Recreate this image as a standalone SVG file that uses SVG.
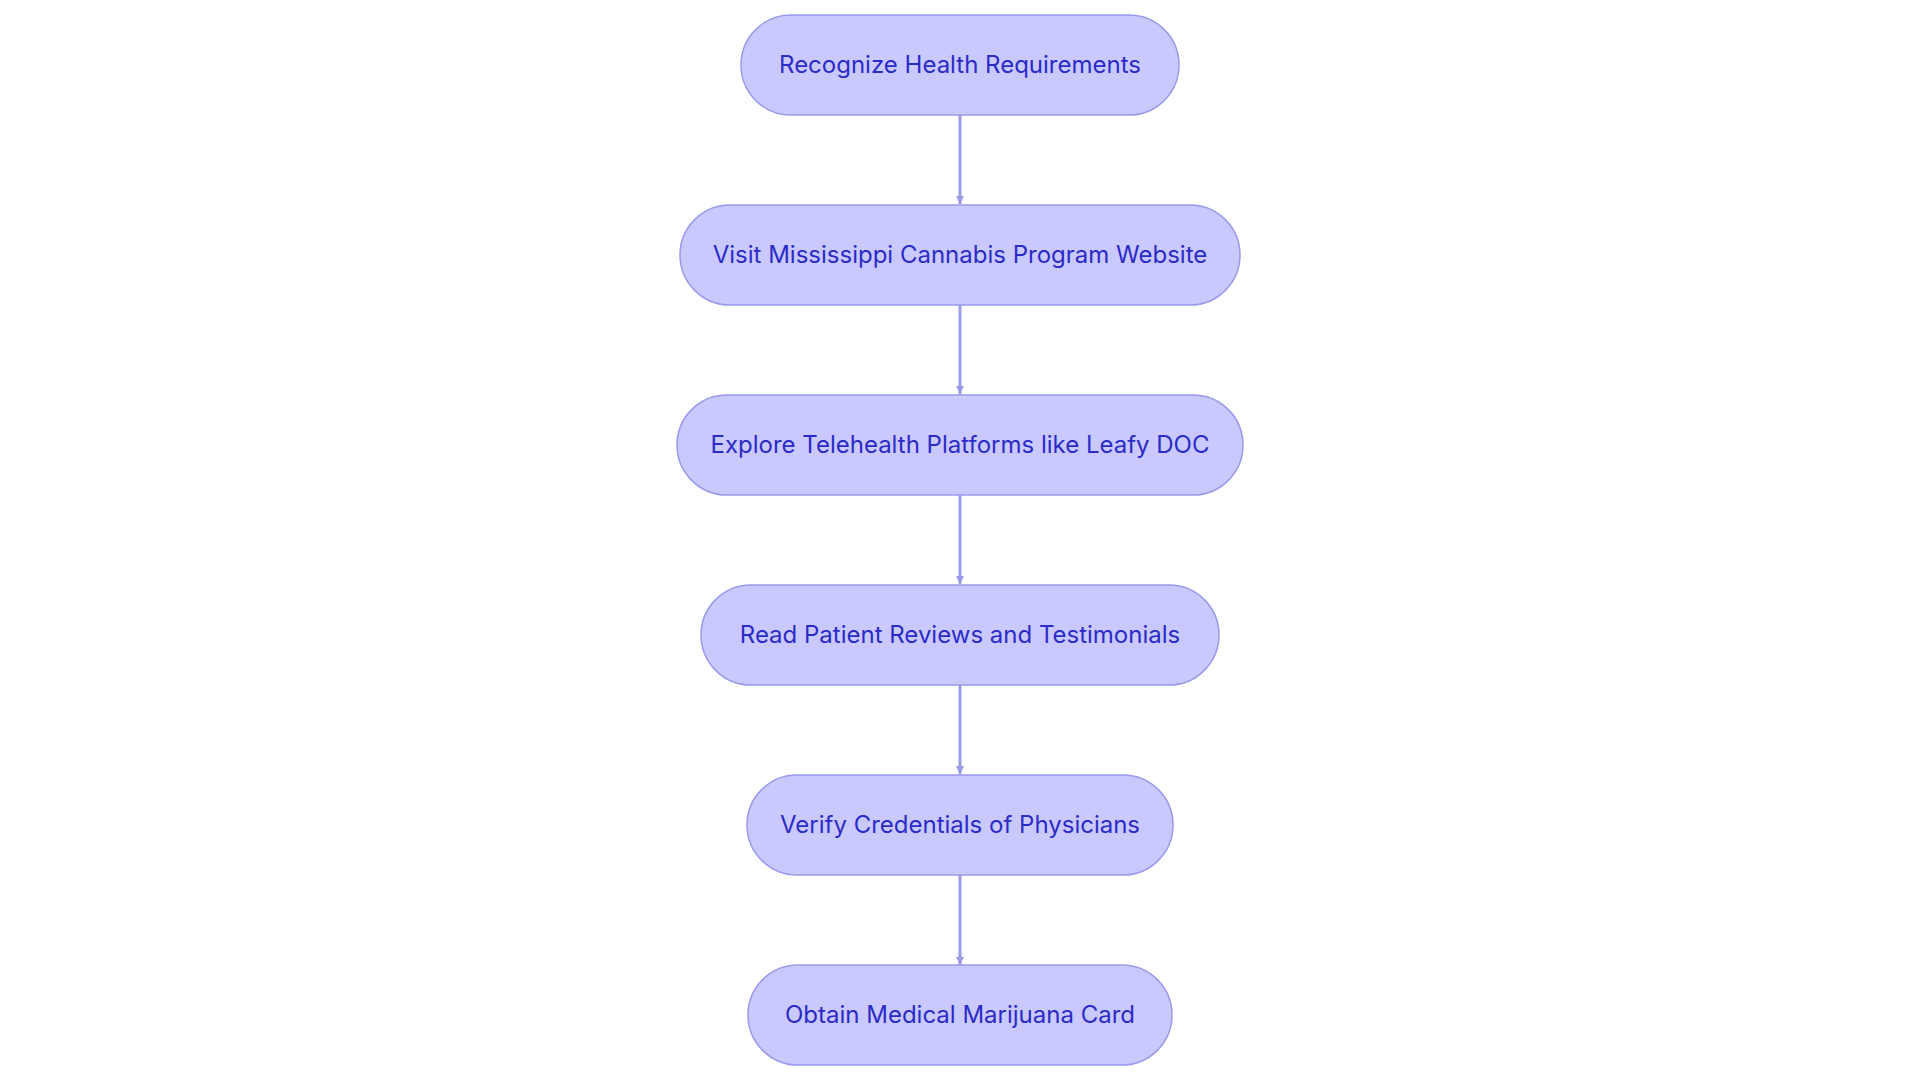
<svg xmlns="http://www.w3.org/2000/svg" width="1920" height="1083" viewBox="0 0 1920 1083">
<style>
.n rect{fill:#C9C9FD;stroke:#9A9AEB;stroke-width:1.5}
.n text{font-family:Inter,"Noto Sans",sans-serif;font-size:24px;fill:#2B2BC8;text-anchor:middle;dominant-baseline:central}
.e line{stroke:#9A9AEB;stroke-width:3}
</style>
<defs><marker id="a" viewBox="0 0 10 10" refX="10" refY="5" markerWidth="8" markerHeight="8" markerUnits="userSpaceOnUse" orient="auto"><path d="M0,0L10,5L0,10z" fill="#9A9AEB"/></marker></defs>
<rect width="1920" height="1083" fill="#fff"/>
<g class="e">
<line x1="960" y1="115" x2="960" y2="204" marker-end="url(#a)"/>
<line x1="960" y1="305" x2="960" y2="394" marker-end="url(#a)"/>
<line x1="960" y1="495" x2="960" y2="584" marker-end="url(#a)"/>
<line x1="960" y1="685" x2="960" y2="774" marker-end="url(#a)"/>
<line x1="960" y1="875" x2="960" y2="965" marker-end="url(#a)"/>
</g>
<g id="n1" class="n"><rect x="741" y="15" width="438" height="100" rx="50"/><text x="960" y="64">Recognize Health Requirements</text></g>
<g id="n2" class="n"><rect x="680" y="205" width="560" height="100" rx="50"/><text x="960" y="254">Visit Mississippi Cannabis Program Website</text></g>
<g id="n3" class="n"><rect x="677" y="395" width="566" height="100" rx="50"/><text x="960" y="444">Explore Telehealth Platforms like Leafy DOC</text></g>
<g id="n4" class="n"><rect x="701" y="585" width="518" height="100" rx="50"/><text x="960" y="634">Read Patient Reviews and Testimonials</text></g>
<g id="n5" class="n"><rect x="747" y="775" width="426" height="100" rx="50"/><text x="960" y="824">Verify Credentials of Physicians</text></g>
<g id="n6" class="n"><rect x="748" y="965" width="424" height="100" rx="50"/><text x="960" y="1014">Obtain Medical Marijuana Card</text></g>
</svg>
